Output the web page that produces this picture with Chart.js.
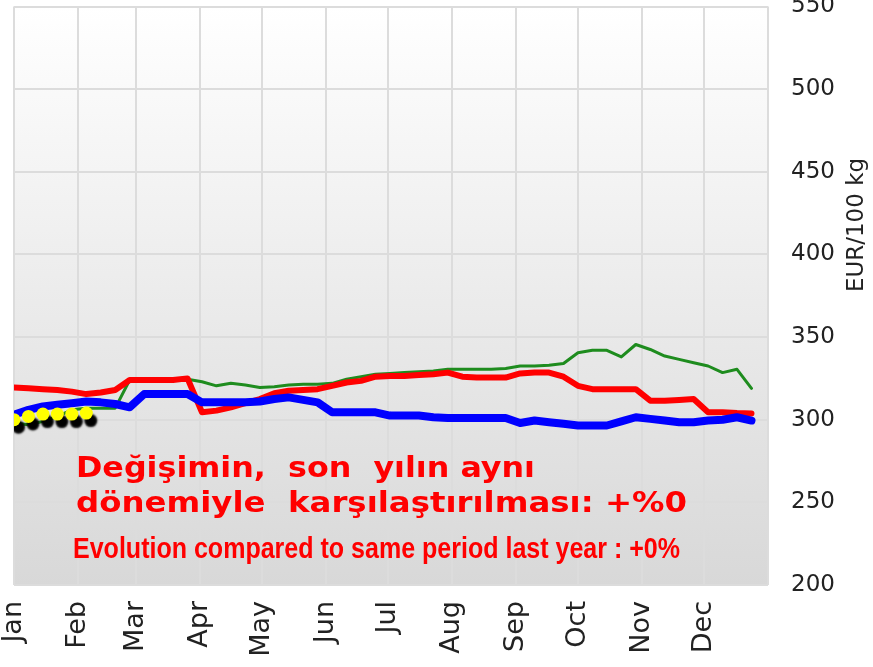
<!DOCTYPE html>
<html>
<head>
<meta charset="utf-8">
<script src="https://cdn.jsdelivr.net/npm/chart.js@4/dist/chart.umd.min.js"></script>
<style>
  html, body { margin: 0; padding: 0; background: #fff; }
  #wrap { width: 873px; height: 667px; }
</style>
</head>
<body>
<div id="wrap"><canvas id="myChart" width="873" height="667"></canvas></div>
<script>
var months = ["Jan", "Feb", "Mar", "Apr", "May", "Jun", "Jul", "Aug", "Sep", "Oct", "Nov", "Dec"];
var monthStartDay = [0, 31, 59, 90, 120, 151, 181, 212, 243, 273, 304, 334, 365];
var yTicks = [200, 250, 300, 350, 400, 450, 500, 550];

// weekly prices, week 0 .. 51
var red = [319.5, 319, 318.5, 318, 317, 315.5, 316.5, 318, 324, 324, 324, 324, 325, 304.5, 305.5, 307.5,
  310, 312.5, 316, 317.5, 318, 318.5, 320.5, 322.5, 323.5, 326, 326.5, 326.5, 327, 327.5, 328.5, 326,
  325.5, 325.5, 325.5, 328, 328.5, 328.5, 326, 320.5, 318.5, 318.5, 318.5, 318.5, 311.5, 311.5, 312,
  312.5, 304.5, 304.5, 304, 303.8];
var green = [298, 297, 299, 302, 306, 307, 307, 307, 324, 324, 324, 324, 324.5, 323, 320.5, 322, 321,
  319.5, 320, 321, 321.5, 321.5, 322, 324.5, 326, 327.5, 328, 328.5, 329, 329.5, 330.5, 330.5, 330.5,
  330.5, 331, 332.5, 332.5, 333, 334, 340.5, 342, 342, 338, 345.5, 342.5, 338.5, 336.5, 334.5, 332.5,
  328.5, 330.5, 319];
var blue = [303, 306, 308, 309, 310, 311, 310.5, 309.5, 307.5, 315.5, 315.5, 315.5, 315.5, 310.5, 310.5,
  310.5, 310.5, 311, 312.5, 313.5, 312, 310.5, 304.5, 304.5, 304.5, 304.5, 302.5, 302.5, 302.5, 301.5,
  301, 301, 301, 301, 301, 298, 299.5, 298.5, 297.5, 296.5, 296.5, 296.5, 299, 301.5, 300.5, 299.5,
  298.5, 298.5, 299.5, 300, 301.5, 299.5];
var current = [300, 302, 303.4, 303.4, 303.4, 304];

// week index -> day of year
function toPoints(arr) {
  return arr.map(function(v, i) { return { x: i * 7, y: v }; });
}

var backdrop = {
  id: 'backdrop',
  beforeDraw: function(chart) {
    var c = chart.ctx, a = chart.chartArea;
    var g = c.createLinearGradient(0, a.top, 0, a.bottom);
    g.addColorStop(0, '#ffffff');
    g.addColorStop(1, '#d8d8d8');
    c.save();
    c.fillStyle = g;
    c.fillRect(a.left, a.top, a.right - a.left, a.bottom - a.top);
    c.restore();
  },
  beforeDatasetDraw: function(chart, args) {
    if (args.index === 0) {
      var c = chart.ctx;
      c.save();
      c.shadowColor = '#000';
      c.shadowOffsetX = 4.5;
      c.shadowOffsetY = 7.5;
      c.shadowBlur = 2;
    }
  },
  afterDatasetDraw: function(chart, args) {
    if (args.index === 0) chart.ctx.restore();
  },
  afterDraw: function(chart) {
    var c = chart.ctx;
    function fitText(txt, font, x, y, w) {
      c.font = font;
      var mw = c.measureText(txt).width;
      c.save();
      c.translate(x, y);
      c.scale(w / mw, 1);
      c.fillText(txt, 0, 0);
      c.restore();
    }
    c.save();
    c.fillStyle = '#ff0000';
    c.textBaseline = 'alphabetic';
    c.textAlign = 'left';
    fitText('Değişimin,  son  yılın aynı', 'bold 29px "DejaVu Sans"', 76, 477, 459);
    fitText('dönemiyle  karşılaştırılması: +%0', 'bold 29px "DejaVu Sans"', 76, 512, 611);
    fitText('Evolution compared to same period last year : +0%', 'bold 29px "Liberation Sans Narrow", "Liberation Sans"', 73, 558, 607);
    // axis title, reading bottom to top
    c.fillStyle = '#222';
    c.font = '23px "DejaVu Sans"';
    c.textAlign = 'center';
    c.textBaseline = 'middle';
    c.translate(857, 225);
    c.rotate(-Math.PI / 2);
    c.fillText('EUR/100 kg', 0, 0);
    c.restore();
  }
};

var ctx = document.getElementById("myChart");
var myChart = new Chart(ctx, {
  type: 'line',
  data: {
    datasets: [{
      data: toPoints(current),
      showLine: false,
      pointRadius: 6.5,
      pointBackgroundColor: '#ffff00',
      pointBorderWidth: 0,
      pointBorderColor: '#ffff00'
    }, {
      data: toPoints(blue),
      borderColor: '#0000ff',
      borderWidth: 8,
      pointRadius: 0
    }, {
      data: toPoints(red),
      borderColor: '#ff0000',
      borderWidth: 6,
      pointRadius: 0
    }, {
      data: toPoints(green),
      borderColor: '#1e8c1e',
      borderWidth: 3,
      pointRadius: 0
    }]
  },
  options: {
    responsive: false,
    animation: false,
    layout: { padding: { left: 14, top: 3, right: 0, bottom: 0 } },
    elements: { line: { tension: 0, borderJoinStyle: 'round', borderCapStyle: 'round' } },
    plugins: { legend: { display: false }, tooltip: { enabled: false } },
    scales: {
      x: {
        type: 'linear',
        min: 0,
        max: 365,
        afterBuildTicks: function(scale) {
          scale.ticks = monthStartDay.map(function(v) { return { value: v }; });
        },
        afterFit: function(scale) {
          scale.height = 82;
          scale.paddingLeft = 0;
          scale.paddingRight = 0;
        },
        grid: { color: '#dcdcdc', lineWidth: 2, drawTicks: false },
        border: { display: false },
        ticks: {
          autoSkip: false,
          maxRotation: 90,
          minRotation: 90,
          padding: 16,
          color: '#222',
          font: { family: 'DejaVu Sans', size: 27 },
          callback: function(value, index) { return months[index] || ''; }
        }
      },
      y: {
        position: 'right',
        min: 200,
        max: 550,
        afterBuildTicks: function(scale) {
          scale.ticks = yTicks.map(function(v) { return { value: v }; });
        },
        afterFit: function(scale) {
          scale.width = 105;
          scale.paddingTop = 0;
          scale.paddingBottom = 0;
        },
        grid: { color: '#dcdcdc', lineWidth: 2, drawTicks: false },
        border: { display: false },
        ticks: {
          padding: 23,
          color: '#222',
          font: { family: 'DejaVu Sans', size: 23 }
        }
      }
    }
  },
  plugins: [backdrop]
});
</script>
</body>
</html>
